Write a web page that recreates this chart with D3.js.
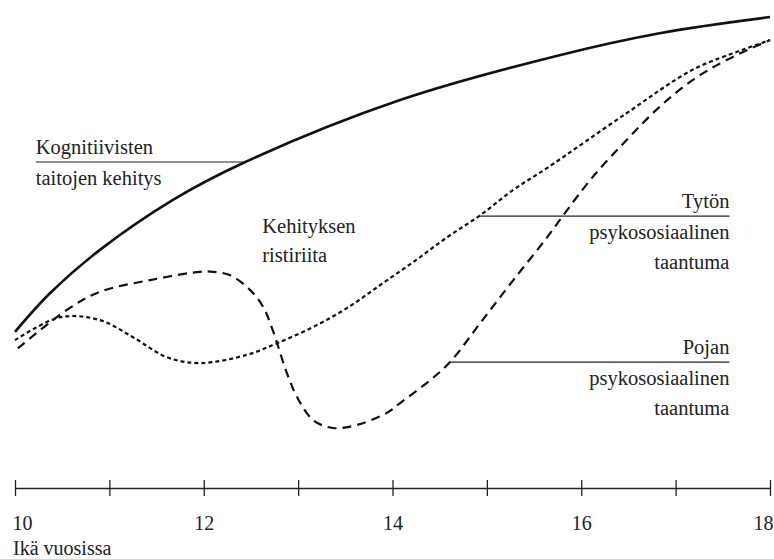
<!DOCTYPE html>
<html lang="fi">
<head>
<meta charset="UTF-8">
<title>Kehityksen ristiriita</title>
<style>
    body { margin: 0; background: #ffffff; }
    svg { display: block; }
    text { font-family: "Liberation Serif", "Times New Roman", "DejaVu Serif", "Noto Serif", serif; fill: #222; }
</style>
</head>
<body>
<div id="chart"></div>
<script src="https://d3js.org/d3.v7.min.js"></script>
<script>
// ages on the x axis, levels (0 = axis, 100 = top)
const ageTicks = [10, 11, 12, 13, 14, 15, 16, 17, 18];
const tickLabels = ["10", "", "12", "", "14", "", "16", "", "18"];

const cognitive = [
    [10, 32.0], [10.37, 39.9], [10.9, 48.8], [11.67, 59.0], [12.44, 66.8],
    [14.08, 79.5], [15.77, 88.7], [16.83, 93.2], [18, 96.5]
];
const girl = [
    [10, 30.3], [10.48, 35.0], [10.9, 34.4], [11.25, 30.9], [11.61, 26.8],
    [11.96, 25.6], [12.46, 27.3], [12.78, 29.7], [13.16, 33.0], [13.52, 36.9],
    [13.87, 41.6], [14.22, 46.3], [14.58, 51.4], [14.93, 55.9], [15.28, 61.1],
    [15.64, 65.6], [16.48, 76.8], [17.18, 85.7], [17.71, 89.8], [18, 91.8]
];
const boy = [
    [10.03, 28.6], [10.55, 36.5], [10.9, 40.2], [11.43, 42.6], [11.96, 44.3],
    [12.1, 44.3], [12.28, 43.6], [12.49, 40.6], [12.63, 37.1], [12.73, 32.4],
    [12.88, 23.6], [12.99, 18.6], [13.16, 13.9], [13.37, 12.3], [13.62, 12.9],
    [13.94, 15.4], [14.08, 17.4], [14.4, 22.1], [14.61, 25.8], [14.93, 33.8],
    [15.28, 42.6], [15.64, 51.4], [15.81, 55.9], [16.12, 63.7], [16.48, 71.3],
    [16.83, 78.1], [17.18, 83.6], [17.54, 87.7], [18, 91.8]
];

// labels with leader lines: [from age, to age, level]
const cognitiveLabel = ["Kognitiivisten", "taitojen kehitys"];
const cognitiveLeader = [10.22, 12.44, 66.8];
const girlLabel = ["Tytön", "psykososiaalinen", "taantuma"];
const girlLeader = [14.93, 17.57, 55.7];
const boyLabel = ["Pojan", "psykososiaalinen", "taantuma"];
const boyLeader = [14.61, 17.57, 25.8];
const conflictLabel = ["Kehityksen", "ristiriita"];
const conflictAt = [12.62, 52.3];

const width = 774, height = 559;
const axisY = 488;

const svg = d3.select("#chart").append("svg")
    .attr("width", width)
    .attr("height", height);

const x = d3.scaleLinear().domain([10, 18]).range([15, 770]);
const y = d3.scaleLinear().domain([0, 100]).range([axisY, 0]);

const line = d3.line()
    .x(d => x(d[0]))
    .y(d => y(d[1]))
    .curve(d3.curveCatmullRom.alpha(0.5));

// curves
svg.append("path").datum(cognitive)
    .attr("d", line)
    .attr("fill", "none")
    .attr("stroke", "#111")
    .attr("stroke-width", 2.6);

svg.append("path").datum(girl)
    .attr("d", line)
    .attr("fill", "none")
    .attr("stroke", "#111")
    .attr("stroke-width", 2.2)
    .attr("stroke-dasharray", "4,3");

svg.append("path").datum(boy)
    .attr("d", line)
    .attr("fill", "none")
    .attr("stroke", "#111")
    .attr("stroke-width", 2.2)
    .attr("stroke-dasharray", "9,6");

// leader lines
function leader(l) {
    svg.append("line")
        .attr("x1", x(l[0])).attr("x2", x(l[1]))
        .attr("y1", y(l[2])).attr("y2", y(l[2]))
        .attr("stroke", "#222")
        .attr("stroke-width", 1.2);
}
leader(cognitiveLeader);
leader(girlLeader);
leader(boyLeader);

// label text
const fontSize = 20.5;
function label(lines, xPos, firstBaseline, gaps, anchor) {
    const t = svg.append("text")
        .attr("font-size", fontSize)
        .attr("text-anchor", anchor);
    let yy = firstBaseline;
    lines.forEach((s, i) => {
        if (i > 0) yy += gaps[i - 1];
        t.append("tspan").attr("x", xPos).attr("y", yy).text(s);
    });
}
label(cognitiveLabel, x(cognitiveLeader[0]), y(cognitiveLeader[2]) - 8, [31], "start");
label(girlLabel, x(girlLeader[1]), y(girlLeader[2]) - 8, [31, 30], "end");
label(boyLabel, x(boyLeader[1]), y(boyLeader[2]) - 8, [31, 30], "end");
label(conflictLabel, x(conflictAt[0]), y(conflictAt[1]), [29], "start");

// axis
const axis = svg.append("g")
    .attr("transform", `translate(0,${axisY})`)
    .call(d3.axisBottom(x)
        .tickValues(ageTicks)
        .tickFormat((d, i) => tickLabels[i])
        .tickSize(8)
        .tickSizeOuter(0));

axis.attr("font-family", null);
axis.select(".domain").attr("stroke", "#222").attr("stroke-width", 1.3);
axis.selectAll(".tick line")
    .attr("y1", -8).attr("y2", 8)
    .attr("stroke", "#222").attr("stroke-width", 1.3);
axis.selectAll(".tick text")
    .attr("y", 42).attr("dy", 0)
    .attr("font-size", 20)
    .attr("fill", "#222")
    .attr("text-anchor", (d, i) => i === 0 ? "start" : (i === ageTicks.length - 1 ? "end" : "middle"))
    .attr("dx", (d, i) => i === 0 ? -3 : (i === ageTicks.length - 1 ? 3 : 0));

svg.append("text")
    .attr("x", 13)
    .attr("y", 555)
    .attr("font-size", 20)
    .text("Ikä vuosissa");
</script>
</body>
</html>
